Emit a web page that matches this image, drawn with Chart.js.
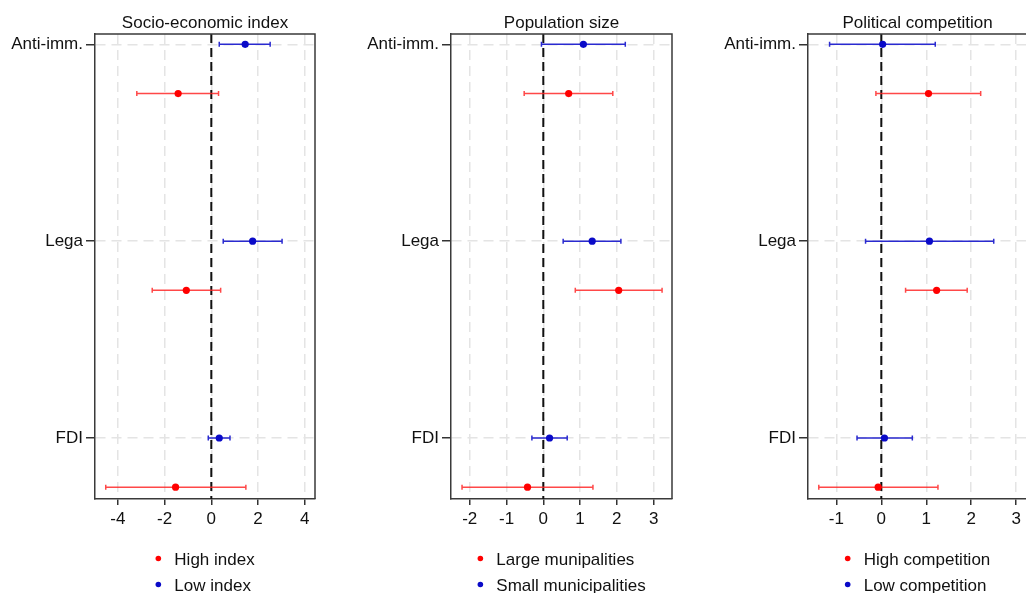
<!DOCTYPE html>
<html>
<head>
<meta charset="utf-8">
<title>Heterogeneous effects</title>
<script src="https://cdn.jsdelivr.net/npm/chart.js@4.4.1/dist/chart.umd.min.js"></script>
<style>
  html, body { margin: 0; padding: 0; background: #fff; overflow: hidden; }
  #wrap { position: relative; width: 1026px; height: 593px; overflow: hidden; }
  .panel { position: absolute; top: 0; }
</style>
</head>
<body>
<div id="wrap">
  <canvas id="c1" class="panel" style="left:0" width="340" height="593"></canvas>
  <canvas id="c2" class="panel" style="left:340px" width="346" height="593"></canvas>
  <canvas id="c3" class="panel" style="left:686px" width="345" height="593"></canvas>
</div>
<script>
// rows of every panel
const rows = ['Anti-imm.', 'Lega', 'FDI'];
const titles = ['Socio-economic index', 'Population size', 'Political competition'];
const highLabels = ['High index', 'Large munipalities', 'High competition'];
const lowLabels = ['Low index', 'Small municipalities', 'Low competition'];

// tick labels
const ticksSocio = [-4, -2, 0, 2, 4];
const ticksPop = [-2, -1, 0, 1, 2, 3];
const ticksComp = [-1, 0, 1, 2, 3];

// Socio-economic index
const socioHigh = [-1.42, -1.07, -1.53];
const socioHighLo = [-3.19, -2.53, -4.52];
const socioHighHi = [0.31, 0.40, 1.48];
const socioLow = [1.45, 1.77, 0.34];
const socioLowLo = [0.34, 0.51, -0.13];
const socioLowHi = [2.52, 3.03, 0.80];

// Population size
const popHigh = [0.69, 2.05, -0.43];
const popHighLo = [-0.52, 0.87, -2.21];
const popHighHi = [1.89, 3.23, 1.35];
const popLow = [1.09, 1.33, 0.17];
const popLowLo = [-0.05, 0.54, -0.31];
const popLowHi = [2.23, 2.11, 0.65];

// Political competition
const compHigh = [1.05, 1.23, -0.07];
const compHighLo = [-0.12, 0.54, -1.39];
const compHighHi = [2.21, 1.91, 1.26];
const compLow = [0.03, 1.07, 0.07];
const compLowLo = [-1.15, -0.35, -0.54];
const compLowHi = [1.20, 2.50, 0.69];

const FONT = '"Liberation Sans", Arial, sans-serif';
Chart.defaults.font.family = FONT;
Chart.defaults.font.size = 17;
Chart.defaults.color = '#111';

// build points: low group on the label row, high group one slot below
function pts(est, lo, hi, shift) {
    return est.map((v, i) => ({ x: v, y: i * 4 + shift, lo: lo[i], hi: hi[i] }));
}

// zero line, top/right frame, error bars, title and legend
const decor = {
    id: 'decor',
    beforeDatasetsDraw(chart) {
        const { ctx, chartArea: a, scales: { x, y } } = chart;
        ctx.save();
        const x0 = x.getPixelForValue(0);
        ctx.strokeStyle = '#111';
        ctx.lineWidth = 2;
        ctx.setLineDash([9, 5]);
        ctx.beginPath();
        ctx.moveTo(x0, a.top);
        ctx.lineTo(x0, a.bottom);
        ctx.stroke();
        ctx.setLineDash([]);

        ctx.strokeStyle = '#3a3a3a';
        ctx.lineWidth = 1.5;
        ctx.beginPath();
        ctx.moveTo(a.left, a.top);
        ctx.lineTo(a.right, a.top);
        ctx.lineTo(a.right, a.bottom);
        ctx.stroke();

        chart.data.datasets.forEach(ds => {
            ctx.strokeStyle = ds.barColor;
            ctx.lineWidth = 1.5;
            ds.data.forEach(p => {
                const py = y.getPixelForValue(p.y);
                const l = x.getPixelForValue(p.lo);
                const r = x.getPixelForValue(p.hi);
                ctx.beginPath();
                ctx.moveTo(l, py); ctx.lineTo(r, py);
                ctx.moveTo(l, py - 2.5); ctx.lineTo(l, py + 2.5);
                ctx.moveTo(r, py - 2.5); ctx.lineTo(r, py + 2.5);
                ctx.stroke();
            });
        });
        ctx.restore();
    },
    afterDraw(chart) {
        const { ctx, chartArea: a } = chart;
        const cx = (a.left + a.right) / 2;
        ctx.save();
        ctx.font = '17px ' + FONT;
        ctx.fillStyle = '#111';
        ctx.textAlign = 'center';
        ctx.textBaseline = 'alphabetic';
        ctx.fillText(chart.options.panelTitle, cx, a.top - 6);

        // legend, high group first
        const items = chart.data.datasets.slice().reverse();
        const w = Math.max(...items.map(d => ctx.measureText(d.label).width)) + 19;
        const left = cx - w / 2;
        ctx.textAlign = 'left';
        items.forEach((d, i) => {
            const base = a.bottom + 66 + i * 26;
            ctx.fillStyle = d.pointBackgroundColor;
            ctx.beginPath();
            ctx.arc(left + 3, base - 6.5, 2.8, 0, Math.PI * 2);
            ctx.fill();
            ctx.fillStyle = '#111';
            ctx.fillText(d.label, left + 19, base);
        });
        ctx.restore();
    }
};

function makePanel(id, k, tickVals, xmin, xmax, yWidth, padRight, high, low) {
    new Chart(document.getElementById(id), {
        type: 'scatter',
        data: {
            datasets: [{
                label: lowLabels[k],
                data: pts(low[0], low[1], low[2], 0),
                pointBackgroundColor: '#0a0ac8',
                barColor: '#2a2ad0',
                pointRadius: 3.6,
                pointBorderWidth: 0
            }, {
                label: highLabels[k],
                data: pts(high[0], high[1], high[2], 1),
                pointBackgroundColor: '#ff0000',
                barColor: 'rgba(255,40,40,0.85)',
                pointRadius: 3.6,
                pointBorderWidth: 0
            }]
        },
        options: {
            panelTitle: titles[k],
            responsive: false,
            animation: false,
            devicePixelRatio: 1,
            layout: { padding: { top: 34, right: padRight, bottom: 0, left: 0 } },
            plugins: { legend: { display: false }, tooltip: { enabled: false } },
            scales: {
                x: {
                    type: 'linear',
                    min: xmin,
                    max: xmax,
                    afterBuildTicks: s => { s.ticks = tickVals.map(v => ({ value: v })); },
                    afterFit: s => { s.height = 94; },
                    ticks: { autoSkip: false, padding: 4, maxRotation: 0 },
                    grid: { color: '#e4e4e4', lineWidth: 1.5, tickColor: '#333', tickLength: 6, tickWidth: 1.5 },
                    border: { color: '#3a3a3a', width: 1.5, dash: [10, 6] }
                },
                y: {
                    type: 'linear',
                    reverse: true,
                    min: -0.21,
                    max: 9.24,
                    afterBuildTicks: s => { s.ticks = rows.map((r, i) => ({ value: i * 4 })); },
                    afterFit: s => { s.width = yWidth; },
                    ticks: { autoSkip: false, padding: 3, callback: (v, i) => rows[i] },
                    grid: { color: '#e4e4e4', lineWidth: 1.5, tickColor: '#333', tickLength: 9, tickWidth: 1.5 },
                    border: { color: '#3a3a3a', width: 1.5, dash: [10, 6] }
                }
            }
        },
        plugins: [decor]
    });
}

makePanel('c1', 0, ticksSocio, -4.98, 4.44, 95, 25,
    [socioHigh, socioHighLo, socioHighHi], [socioLow, socioLowLo, socioLowHi]);
makePanel('c2', 1, ticksPop, -2.51, 3.5, 111, 14,
    [popHigh, popHighLo, popHighHi], [popLow, popLowLo, popLowHi]);
makePanel('c3', 2, ticksComp, -1.63, 3.24, 122, 2,
    [compHigh, compHighLo, compHighHi], [compLow, compLowLo, compLowHi]);
</script>
</body>
</html>
